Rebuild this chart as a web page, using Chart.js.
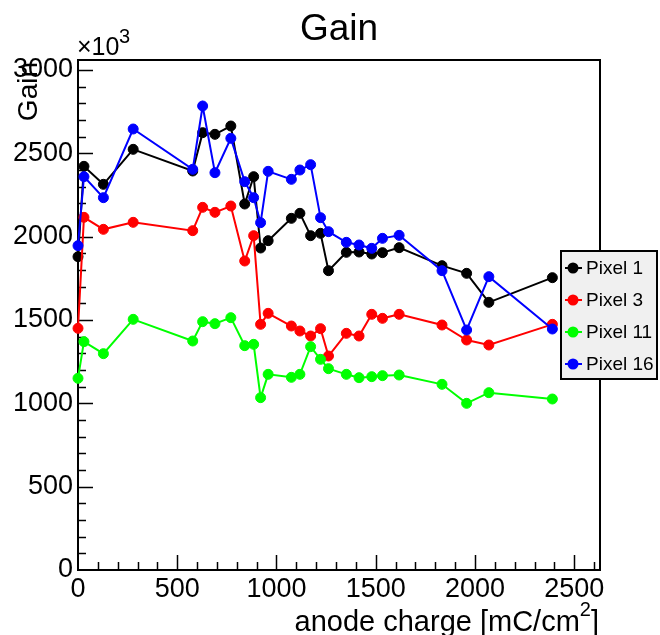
<!DOCTYPE html>
<html>
<head>
<meta charset="utf-8">
<script src="https://cdn.jsdelivr.net/npm/chart.js@4.4.1/dist/chart.umd.min.js"></script>
<style>
  body { margin: 0; background: #fff; }
</style>
</head>
<body>
<canvas id="chart" width="660" height="635"></canvas>
<script>
'use strict';

// anode charge [mC/cm^2], shared by all pixels
const charge = [0, 30, 128, 278, 578, 628, 690, 770, 840, 885, 920, 958, 1075,
    1118, 1172, 1222, 1262, 1352, 1416, 1480, 1534, 1618, 1834, 1958, 2070, 2390];

// gain, in units of 10^3
const pixel1 = [1880, 2422, 2314, 2524, 2394, 2624, 2614, 2664, 2196, 2360, 1932, 1976, 2110,
    2140, 2006, 2020, 1796, 1906, 1908, 1896, 1904, 1934, 1826, 1780, 1606, 1754];
const pixel3 = [1450, 2116, 2044, 2086, 2036, 2176, 2146, 2184, 1854, 2006, 1474, 1540, 1464,
    1434, 1404, 1448, 1284, 1420, 1404, 1534, 1510, 1534, 1470, 1380, 1350, 1474];
const pixel11 = [1150, 1370, 1298, 1504, 1374, 1490, 1478, 1514, 1346, 1354, 1034, 1174, 1156,
    1174, 1340, 1264, 1208, 1174, 1154, 1160, 1166, 1170, 1114, 1000, 1064, 1026];
const pixel16 = [1946, 2360, 2234, 2646, 2404, 2784, 2384, 2590, 2330, 2234, 2084, 2392, 2344,
    2400, 2432, 2114, 2030, 1966, 1950, 1930, 1990, 2008, 1796, 1440, 1760, 1446];

const seriesNames = ['Pixel 1', 'Pixel 3', 'Pixel 11', 'Pixel 16'];
const seriesColors = ['#000000', '#ff0000', '#00ff00', '#0000ff'];
const seriesValues = [pixel1, pixel3, pixel11, pixel16];

const xTicks = [0, 500, 1000, 1500, 2000, 2500];
const yTicks = [0, 500, 1000, 1500, 2000, 2500, 3000];

const FONT = '"Liberation Sans", Arial, Helvetica, sans-serif';

const rootFrame = {
    id: 'rootFrame',
    beforeDatasetsDraw(chart) {
        const {ctx, chartArea: a, scales: {x, y}} = chart;
        ctx.save();
        ctx.strokeStyle = '#000';
        ctx.lineWidth = 2;
        ctx.strokeRect(a.left, a.top, a.right - a.left, a.bottom - a.top);

        // inward ticks, ROOT style
        ctx.lineWidth = 1.5;
        ctx.beginPath();
        for (let v = 100; v <= x.max; v += 100) {
            const px = Math.round(x.getPixelForValue(v)) + 0.5;
            const len = v % 500 === 0 ? 15 : 8;
            ctx.moveTo(px, a.bottom);
            ctx.lineTo(px, a.bottom - len);
        }
        for (let v = 100; v <= y.max; v += 100) {
            const py = Math.round(y.getPixelForValue(v)) + 0.5;
            const len = v % 500 === 0 ? 15 : 8;
            ctx.moveTo(a.left, py);
            ctx.lineTo(a.left + len, py);
        }
        ctx.stroke();

        // title
        ctx.fillStyle = '#000';
        ctx.textBaseline = 'alphabetic';
        ctx.textAlign = 'center';
        ctx.font = '37px ' + FONT;
        ctx.fillText('Gain', 339, 40);

        // exponent
        ctx.textAlign = 'left';
        ctx.font = '25px ' + FONT;
        ctx.fillText('\u00d710', 77, 55);
        ctx.font = '20px ' + FONT;
        ctx.fillText('3', 119, 43);

        // x title
        ctx.textAlign = 'right';
        ctx.font = '29px ' + FONT;
        const wBr = ctx.measureText(']').width;
        ctx.fillText(']', 599, 631);
        ctx.font = '20px ' + FONT;
        const w2 = ctx.measureText('2').width;
        ctx.fillText('2', 599 - wBr, 616);
        ctx.font = '29px ' + FONT;
        ctx.fillText('anode charge [mC/cm', 599 - wBr - w2, 631);

        // y title
        ctx.translate(37, 62);
        ctx.rotate(-Math.PI / 2);
        ctx.textAlign = 'right';
        ctx.font = '28px ' + FONT;
        ctx.fillText('Gain', 0, 0);
        ctx.restore();
    },
    afterDraw(chart) {
        const ctx = chart.ctx;
        ctx.save();
        const lx = 561, ly = 251, lw = 96, lh = 128;
        ctx.fillStyle = '#f0f0f0';
        ctx.fillRect(lx, ly, lw, lh);
        ctx.strokeStyle = '#000';
        ctx.lineWidth = 2;
        ctx.strokeRect(lx, ly, lw, lh);
        chart.data.datasets.forEach((ds, i) => {
            const cy = ly + 17 + i * 32;
            ctx.strokeStyle = ds.borderColor;
            ctx.lineWidth = 2;
            ctx.beginPath();
            ctx.moveTo(565, cy);
            ctx.lineTo(582, cy);
            ctx.stroke();
            ctx.fillStyle = ds.borderColor;
            ctx.beginPath();
            ctx.arc(573, cy, 5.5, 0, Math.PI * 2);
            ctx.fill();
            ctx.fillStyle = '#000';
            ctx.font = '19px ' + FONT;
            ctx.textAlign = 'left';
            ctx.textBaseline = 'middle';
            ctx.fillText(ds.label, 586, cy + 1);
        });
        ctx.restore();
    }
};

const datasets = seriesNames.map((name, i) => ({
    label: name,
    data: charge.map((c, k) => ({x: c, y: seriesValues[i][k]})),
    showLine: true,
    borderColor: seriesColors[i],
    backgroundColor: seriesColors[i],
    borderWidth: 2,
    pointRadius: 5,
    pointBorderWidth: 1,
    tension: 0,
    clip: false,
    order: seriesNames.length - i
}));

new Chart(document.querySelector('#chart'), {
    type: 'scatter',
    data: {datasets: datasets},
    options: {
        responsive: false,
        animation: false,
        devicePixelRatio: 1,
        layout: {padding: {top: 60, right: 60, left: 0, bottom: 0}},
        plugins: {
            legend: {display: false},
            tooltip: {enabled: false}
        },
        scales: {
            x: {
                type: 'linear',
                min: 0,
                max: 2630,
                afterFit: s => { s.height = 65; },
                afterBuildTicks: s => { s.ticks = xTicks.map(v => ({value: v})); },
                grid: {display: false, drawTicks: false},
                border: {display: false},
                ticks: {
                    autoSkip: false,
                    maxRotation: 0,
                    padding: 3,
                    color: '#000',
                    font: {family: FONT, size: 27},
                    callback: v => String(v)
                }
            },
            y: {
                type: 'linear',
                min: 0,
                max: 3060,
                afterFit: s => { s.width = 78; },
                afterBuildTicks: s => { s.ticks = yTicks.map(v => ({value: v})); },
                grid: {display: false, drawTicks: false},
                border: {display: false},
                ticks: {
                    padding: 5,
                    color: '#000',
                    font: {family: FONT, size: 27},
                    callback: v => String(v)
                }
            }
        }
    },
    plugins: [rootFrame]
});
</script>
</body>
</html>
